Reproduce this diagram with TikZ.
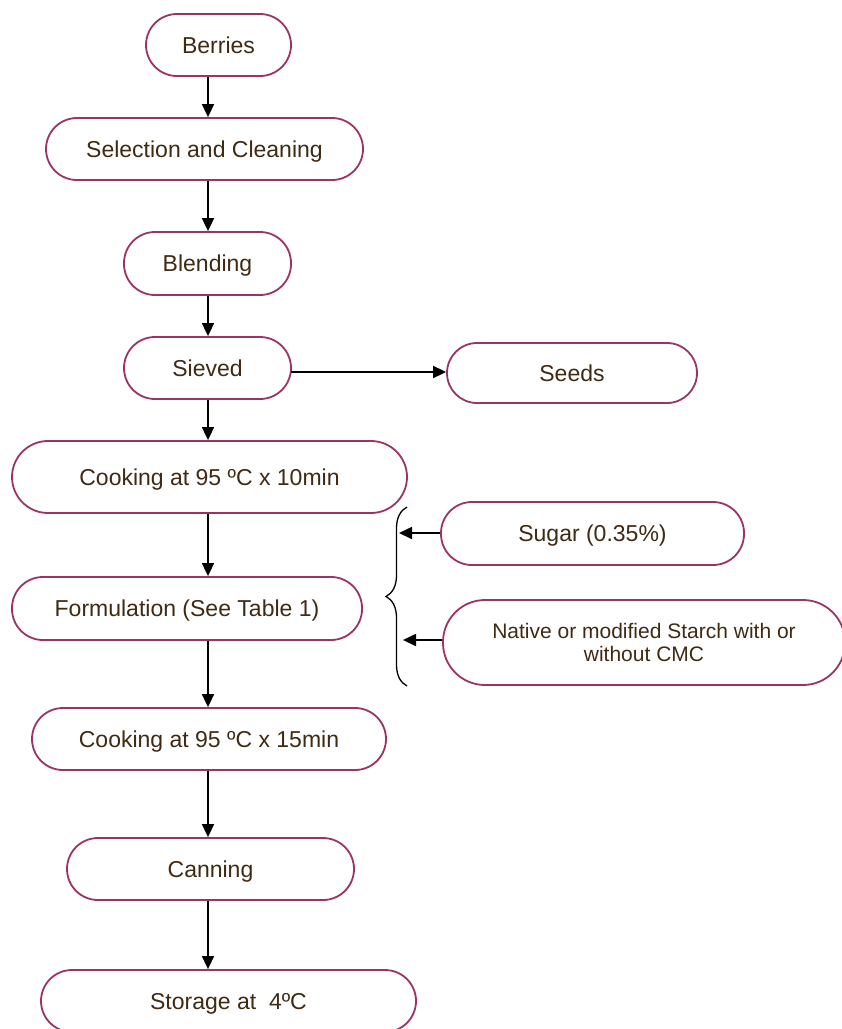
\documentclass[tikz,border=0pt]{standalone}
\usepackage{fontspec}
\setmainfont{Liberation Sans}
\usetikzlibrary{arrows.meta,decorations.pathreplacing}
\definecolor{pillborder}{HTML}{9B3465}
\definecolor{txt}{HTML}{3F2A14}
\tikzset{
  pill/.style={draw=pillborder, line width=1.8pt, fill=white, text=txt,
    font=\fontsize{23}{26}\selectfont, inner sep=0pt, align=center},
  one/.style={text height=16.5pt, text depth=0pt},
  arr/.style={line width=1.7pt, -{Triangle[length=13pt,width=12pt]}},
}
\begin{document}
\begin{tikzpicture}[x=1pt,y=-1pt]
\useasboundingbox (0,0) rectangle (842,1029);
\node[pill, one, minimum width=145pt, minimum height=62pt, rounded corners=31pt] (berries) at (218.5,45) {Berries};
\node[pill, one, minimum width=317pt, minimum height=62pt, rounded corners=31pt] (sel) at (204.5,149) {Selection and Cleaning};
\node[pill, one, minimum width=167pt, minimum height=63pt, rounded corners=31pt] (blend) at (207.5,263.5) {Blending};
\node[pill, one, minimum width=167pt, minimum height=62pt, rounded corners=31pt] (sieved) at (207.5,368) {Sieved};
\node[pill, one, minimum width=250pt, minimum height=60pt, rounded corners=30pt] (seeds) at (572,373) {Seeds};
\node[pill, one, minimum width=395pt, minimum height=72pt, rounded corners=36pt] (cook1) at (209.5,477) {Cooking at 95 ºC x 10min};
\node[pill, one, minimum width=303pt, minimum height=63pt, rounded corners=31pt] (sugar) at (592.5,533.5) {Sugar (0.35\%)};
\node[pill, one, minimum width=350pt, minimum height=63pt, rounded corners=31pt] (form) at (187,608.5) {Formulation (See Table 1)};
\node[pill, minimum width=402pt, minimum height=85pt, rounded corners=42pt, font=\fontsize{21}{23}\selectfont] (starch) at (644,642.5) {Native or modified Starch with or\\without CMC};
\node[pill, one, minimum width=354pt, minimum height=62pt, rounded corners=31pt] (cook2) at (209,739) {Cooking at 95 ºC x 15min};
\node[pill, one, minimum width=287pt, minimum height=62pt, rounded corners=31pt] (can) at (210.5,869) {Canning};
\node[pill, one, minimum width=375pt, minimum height=62pt, rounded corners=31pt] (store) at (228.5,1001) {Storage at \ 4ºC};

\coordinate (ax) at (208,0);
\draw[arr] (berries.south -| ax) -- (sel.north -| ax);
\draw[arr] (sel.south -| ax) -- (blend.north -| ax);
\draw[arr] (blend.south -| ax) -- (sieved.north -| ax);
\draw[arr] (sieved.south -| ax) -- (cook1.north -| ax);
\draw[arr] (cook1.south -| ax) -- (form.north -| ax);
\draw[arr] (form.south -| ax) -- (cook2.north -| ax);
\draw[arr] (cook2.south -| ax) -- (can.north -| ax);
\draw[arr] (can.south -| ax) -- (store.north -| ax);

\coordinate (sv) at (291,372);
\draw[arr] (sv) -- (seeds.west |- sv);

\coordinate (bb) at (407,686);
\coordinate (bt) at (407,507);
\draw[line width=1.3pt, decorate, decoration={brace, amplitude=21pt}] (bb) -- (bt);
\coordinate (s1) at (399,533);
\coordinate (s2) at (403,640);
\draw[arr] (sugar.west |- s1) -- (s1);
\draw[arr] (starch.west |- s2) -- (s2);
\end{tikzpicture}
\end{document}
